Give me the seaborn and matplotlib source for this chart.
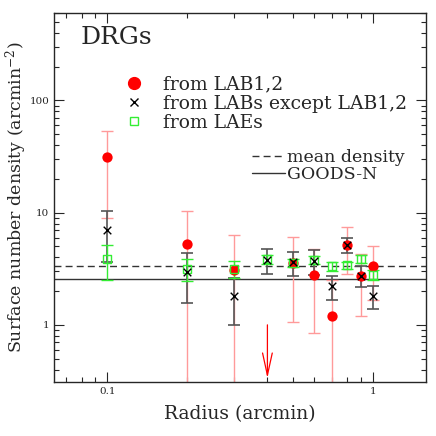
import numpy as np
import pandas as pd
import seaborn as sns
import matplotlib.pyplot as plt
from matplotlib.ticker import FuncFormatter, LogLocator, NullFormatter
from matplotlib.lines import Line2D

# radial bins (arcmin)
radius = [0.1, 0.2, 0.3, 0.4, 0.5, 0.6, 0.7, 0.8, 0.9, 1.0]

# DRG surface densities around LAB1,2 (nan at 0.4 -> upper limit only)
lab12 = [31.0, 5.25, 3.1, np.nan, 3.55, 2.8, 1.2, 5.15, 2.75, 3.35]
lab12_err = [22.0, 5.0, 3.2, np.nan, 2.5, 1.95, 1.3, 2.3, 1.55, 1.7]
uplim_radius = [0.4]
uplim_value = [1.0]

# around the other LABs
labs = [7.0, 2.95, 1.8, 3.8, 3.6, 3.7, 2.2, 5.15, 2.75, 1.8]
labs_err = [3.4, 1.4, 0.8, 0.95, 0.85, 0.9, 0.55, 0.8, 0.58, 0.41]

# around LAEs
laes = [3.85, 3.15, 3.15, 3.85, 3.55, 3.8, 3.35, 3.4, 3.85, 2.8]
laes_err = [1.35, 0.7, 0.55, 0.35, 0.3, 0.3, 0.3, 0.25, 0.3, 0.3]

mean_density = 3.35
goods_n = 2.56

df = pd.DataFrame({"radius": radius, "lab12": lab12, "lab12_err": lab12_err,
                   "labs": labs, "labs_err": labs_err,
                   "laes": laes, "laes_err": laes_err})

sns.set_style("ticks")
plt.rcParams['font.family'] = ['DejaVu Serif']
plt.rcParams['mathtext.fontset'] = 'dejavuserif'

fig = plt.figure(figsize=(4.36, 4.36), dpi=100)
ax = fig.add_axes([0.124, 0.124, 0.853, 0.846])
ax.set_xscale('log')
ax.set_yscale('log')


def lower_err(vals, errs):
    # error bars that reach zero just run off the bottom of the log axis
    v = np.asarray(vals, float)
    e = np.asarray(errs, float)
    return np.where(v - e <= 0, v - 1e-3, e)


ax.errorbar(df.radius, df.lab12, yerr=[lower_err(df.lab12, df.lab12_err), df.lab12_err],
            fmt='none', ecolor='#ff9a9a', elinewidth=1.0, capsize=4.5, capthick=1.0, zorder=1)
ax.errorbar(df.radius, df.labs, yerr=[lower_err(df.labs, df.labs_err), df.labs_err],
            fmt='none', ecolor='#555555', elinewidth=1.2, capsize=4.5, capthick=1.2, zorder=2)
ax.errorbar(df.radius, df.laes, yerr=[lower_err(df.laes, df.laes_err), df.laes_err],
            fmt='none', ecolor='#33ee33', elinewidth=1.0, capsize=4.5, capthick=1.0, zorder=3)

for r, v in zip(uplim_radius, uplim_value):
    ax.annotate('', xy=(r, 0.335), xytext=(r, v),
                arrowprops=dict(arrowstyle='->,head_length=1.6,head_width=0.35',
                                color='red', lw=0.9, shrinkA=0, shrinkB=0), zorder=1)

sns.scatterplot(data=df, x='radius', y='lab12', color='red', s=55, linewidth=0,
                ax=ax, zorder=4)
sns.scatterplot(data=df, x='radius', y='laes', marker='s', s=34, facecolor='none',
                edgecolor='#33ee33', linewidth=1.0, ax=ax, zorder=5)
sns.scatterplot(data=df, x='radius', y='labs', marker='x', color='black', s=30,
                linewidth=1.0, ax=ax, zorder=6)

ax.axhline(mean_density, color='#333333', lw=1.0, ls=(0, (5, 3)), zorder=0)
ax.axhline(goods_n, color='#333333', lw=1.0, zorder=0)

ax.set_xlim(0.063, 1.58)
ax.set_ylim(0.31, 600)

fmt = FuncFormatter(lambda v, p: '{:g}'.format(v))
ax.xaxis.set_major_formatter(fmt)
ax.yaxis.set_major_formatter(fmt)
ax.xaxis.set_minor_formatter(NullFormatter())
ax.yaxis.set_minor_formatter(NullFormatter())
ax.yaxis.set_major_locator(LogLocator(base=10))
ax.tick_params(which='both', direction='in', top=True, right=True, labelsize=7.5, width=0.8)
ax.tick_params(which='major', length=7)
ax.tick_params(which='minor', length=3.5)
for s in ax.spines.values():
    s.set_linewidth(1.0)

ax.set_xlabel('Radius (arcmin)', fontsize=13.5, labelpad=7)
ax.set_ylabel('Surface number density (arcmin$^{-2}$)', fontsize=12.5, labelpad=0)

ax.text(0.07, 0.935, 'DRGs', transform=ax.transAxes, fontsize=18, va='center', ha='left')

handles = [
    Line2D([], [], ls='none', marker='o', color='red', markersize=8.5),
    Line2D([], [], ls='none', marker='x', color='black', markersize=6, mew=1.0),
    Line2D([], [], ls='none', marker='s', mfc='none', mec='#33ee33', markersize=6, mew=1.0),
]
leg1 = ax.legend(handles, ['from LAB1,2', 'from LABs except LAB1,2', 'from LAEs'],
                 loc='upper left', bbox_to_anchor=(0.185, 0.83), frameon=False,
                 fontsize=13.5, handlelength=1.2, handletextpad=0.95, labelspacing=0.05,
                 borderpad=0, borderaxespad=0)
ax.add_artist(leg1)

handles2 = [Line2D([], [], color='#333333', lw=1.0, ls=(0, (5, 3))),
            Line2D([], [], color='#333333', lw=1.0)]
ax.legend(handles2, ['mean density', 'GOODS-N'], loc='upper left',
          bbox_to_anchor=(0.532, 0.632), frameon=False, fontsize=12.5,
          handlelength=1.9, handletextpad=0.12, labelspacing=0.0,
          borderpad=0, borderaxespad=0)

fig.savefig('out.png', dpi=100)
